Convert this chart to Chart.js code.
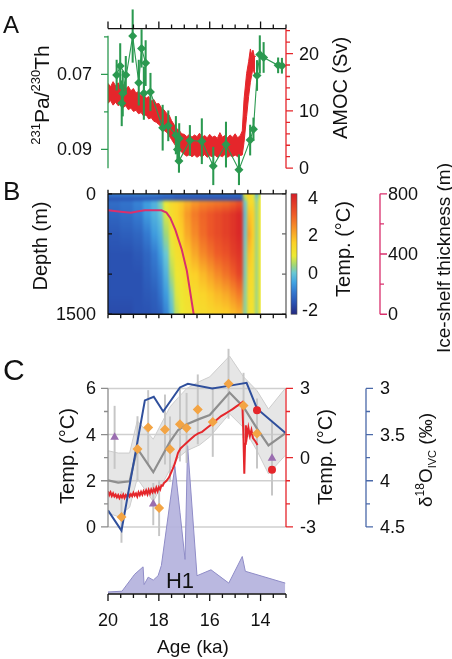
<!DOCTYPE html>
<html lang="en">
<head>
<meta charset="UTF-8">
<title>Deglacial AMOC, subsurface warming and ice-shelf collapse</title>
<script src="https://cdn.jsdelivr.net/npm/chart.js"></script>
<style>
  html, body { margin: 0; padding: 0; background: #fff; }
  #wrap { position: relative; width: 452px; height: 659px; }
</style>
</head>
<body>
<div id="wrap"><canvas id="fig" width="452" height="659"></canvas></div>
<script>
// ---------- Panel A: 231Pa/230Th record and simulated AMOC ----------
const paAges  = [19.66, 19.52, 19.30, 19.42, 19.46, 19.03, 18.79, 18.68, 18.52, 18.59, 18.33, 17.85, 17.63, 17.33, 17.20, 17.27, 17.21, 16.78, 16.31, 15.86, 15.36, 14.85, 14.41, 14.28, 14.14, 14.03, 13.88, 13.31, 13.16];
const paRatio = [0.0702, 0.0678, 0.0702, 0.0751, 0.0777, 0.0598, 0.0722, 0.0631, 0.0670, 0.0750, 0.0747, 0.0842, 0.0837, 0.0862, 0.0871, 0.0900, 0.0931, 0.0876, 0.0878, 0.0944, 0.0887, 0.0954, 0.0875, 0.0846, 0.0703, 0.0647, 0.0655, 0.0676, 0.0677];
const paErr   = [0.004, 0.006, 0.005, 0.006, 0.006, 0.007, 0.006, 0.005, 0.006, 0.007, 0.005, 0.006, 0.004, 0.005, 0.004, 0.003, 0.003, 0.004, 0.006, 0.005, 0.006, 0.004, 0.004, 0.003, 0.004, 0.005, 0.004, 0.002, 0.002];

const amocAges = [20.0, 19.9, 19.8, 19.7, 19.6, 19.5, 19.4, 19.3, 19.2, 19.1, 19.0, 18.9, 18.8, 18.7, 18.6, 18.5, 18.4, 18.3, 18.2, 18.1, 18.0, 17.9, 17.8, 17.7, 17.6, 17.5, 17.4, 17.3, 17.2, 17.1, 17.0, 16.9, 16.8, 16.7, 16.6, 16.5, 16.4, 16.3, 16.2, 16.1, 16.0, 15.9, 15.8, 15.7, 15.6, 15.5, 15.4, 15.3, 15.2, 15.1, 15.0, 14.9, 14.8, 14.72, 14.65, 14.55, 14.47, 14.4, 14.35, 14.3, 14.25, 14.22];
const amocHi = [14.8, 14.2, 15.1, 14.4, 14.9, 14.0, 14.6, 13.8, 14.3, 13.5, 13.9, 13.1, 13.4, 12.6, 12.9, 12.2, 12.5, 11.7, 12.0, 11.2, 11.3, 10.5, 10.2, 9.6, 9.3, 8.3, 7.6, 6.9, 6.6, 6.0, 5.9, 5.5, 5.9, 5.4, 5.8, 5.5, 6.1, 5.4, 5.7, 5.3, 5.9, 5.4, 5.6, 5.2, 6.2, 5.4, 5.7, 5.3, 5.8, 5.4, 6.0, 5.3, 5.7, 6.5, 12.0, 16.5, 18.6, 20.8, 19.8, 20.6, 19.6, 19.4];
const amocLo = [11.3, 11.8, 11.0, 11.5, 10.9, 11.3, 10.6, 10.9, 10.2, 10.5, 9.9, 10.1, 9.5, 9.7, 9.1, 9.3, 8.6, 8.8, 8.2, 8.0, 7.6, 7.2, 6.6, 6.3, 5.7, 5.0, 4.3, 3.7, 3.2, 2.8, 2.4, 2.1, 2.4, 2.0, 2.3, 1.9, 2.2, 2.0, 2.4, 1.9, 2.2, 2.0, 2.3, 1.9, 2.2, 2.0, 2.4, 1.9, 2.2, 2.0, 2.3, 2.0, 2.2, 2.3, 4.5, 9.0, 12.5, 15.0, 16.2, 17.4, 16.6, 16.4];

// ---------- Panel B: simulated subsurface temperature and ice shelf ----------
const heatEdges  = [20.0, 19.5, 19.0, 18.6, 18.3, 18.0, 17.8, 17.6, 17.4, 17.2, 17.0, 16.7, 16.4, 16.1, 15.8, 15.5, 15.2, 14.95, 14.67, 14.51, 14.35, 14.21, 14.07, 14.0];
const heatDepths = [0, 70, 100, 250, 500, 750, 1000, 1250, 1500];
const heatTemps = [
  [-0.9, -1.6, -1.2, -1.3, -1.5, -1.6, -1.6, -1.6, -1.7],
  [-0.9, -1.6, -1.1, -1.2, -1.4, -1.6, -1.6, -1.6, -1.7],
  [-0.8, -1.6, -0.9, -1.0, -1.3, -1.5, -1.6, -1.6, -1.6],
  [-0.8, -1.6, -0.6, -0.6, -1.0, -1.3, -1.4, -1.5, -1.6],
  [-0.8, -1.6, -0.3, -0.3, -0.6, -1.0, -1.2, -1.4, -1.5],
  [-0.9, -1.6,  0.2,  0.0, -0.3, -0.6, -0.9, -1.1, -1.4],
  [-1.0, -1.6,  0.9,  0.8,  0.4,  0.0, -0.3, -0.6, -0.9],
  [-1.0, -1.6,  1.3,  1.3,  1.1,  0.8,  0.5,  0.1, -0.2],
  [-1.1, -1.7,  1.5,  1.5,  1.4,  1.2,  1.0,  0.8,  0.6],
  [-1.1, -1.7,  1.7,  1.8,  1.6,  1.3,  1.1,  1.0,  0.9],
  [-1.1, -1.7,  2.0,  2.3,  2.1,  1.7,  1.4,  1.2,  1.1],
  [-1.1, -1.7,  2.3,  2.7,  2.5,  2.1,  1.6,  1.3,  1.2],
  [-1.1, -1.7,  2.5,  3.0,  2.9,  2.5,  1.9,  1.5,  1.3],
  [-1.1, -1.7,  2.6,  3.2,  3.2,  2.8,  2.2,  1.7,  1.4],
  [-1.1, -1.7,  2.7,  3.4,  3.4,  3.1,  2.5,  1.9,  1.5],
  [-1.1, -1.7,  2.8,  3.6,  3.6,  3.3,  2.8,  2.1,  1.6],
  [-1.1, -1.7,  3.0,  3.8,  3.8,  3.6,  3.1,  2.4,  1.8],
  [-1.1, -1.7,  3.3,  4.0,  4.0,  3.8,  3.5,  2.7,  2.0],
  [ 1.0,  0.4,  0.0, -0.1,  0.0,  0.1,  0.1,  0.2,  0.2],
  [ 1.6,  1.5,  1.3,  1.8,  2.2,  1.8,  1.5,  1.3,  1.2],
  [ 0.8,  1.2,  1.3,  1.6,  1.6,  1.4,  1.3,  1.2,  1.1],
  [-0.3,  0.0,  0.2,  0.3,  0.3,  0.3,  0.3,  0.3,  0.3],
  [ 0.6,  0.9,  1.0,  1.0,  1.0,  1.0,  1.0,  1.0,  1.0]
];
const iceAges  = [20.0, 19.5, 19.1, 18.8, 18.55, 17.9, 17.7, 17.55, 17.35, 17.1, 16.9, 16.63];
const iceThick = [690, 681, 674, 684, 690, 690, 675, 640, 560, 430, 290, 0];

// ---------- Panel C: proxy stack, simulated temperature, d18O, IRD ----------
const stackAges = [20.0, 19.6, 19.15, 18.85, 18.22, 17.56, 17.24, 16.9, 16.4, 16.0, 15.22, 14.67, 14.14, 13.69, 13.03];
const stackMean = [2.02, 1.92, 1.98, 3.4, 2.37, 3.7, 4.2, 4.45, 4.68, 4.85, 5.82, 5.2, 4.26, 3.53, 4.05];
const stackHi   = [3.3, 3.2, 3.2, 4.6, 3.8, 5.2, 5.6, 6.0, 6.3, 6.5, 7.4, 6.5, 5.9, 5.1, 6.0];
const stackLo   = [0.6, 0.45, 0.85, 2.1, 1.1, 2.5, 3.0, 3.3, 3.55, 3.9, 4.9, 4.3, 3.3, 2.3, 3.1];

const orangeAges  = [19.47, 18.84, 18.42, 17.99, 17.76, 17.56, 17.17, 16.91, 16.47, 15.88, 15.26, 14.67, 14.14];
const orangeTemps = [0.43, 3.38, 4.31, 0.82, 4.22, 3.37, 4.45, 4.29, 5.09, 4.55, 6.2, 5.26, 4.05];
const orangeErr   = [1.1, 1.4, 1.6, 1.2, 1.5, 1.4, 1.6, 1.5, 1.5, 1.5, 1.5, 1.4, 1.5];
const triAges  = [19.74, 18.22, 13.55];
const triTemps = [3.88, 0.99, 2.98];
const triErr   = [1.35, 0.9, 1.6];
const circleAges  = [14.14, 13.55];
const circleTemps = [5.05, 2.48];

const simAges = [20.0, 19.95, 19.9, 19.85, 19.8, 19.75, 19.7, 19.65, 19.6, 19.55, 19.5, 19.45, 19.4, 19.35, 19.3, 19.25, 19.2, 19.15, 19.1, 19.05, 19.0, 18.95, 18.9, 18.85, 18.8, 18.75, 18.7, 18.65, 18.6, 18.55, 18.5, 18.45, 18.4, 18.35, 18.3, 18.25, 18.2, 18.15, 18.1, 18.05, 18.0, 17.95, 17.9, 17.85, 17.8, 17.7, 17.6, 17.5, 17.4, 17.3, 17.25, 17.15, 17.05, 16.95, 16.8, 16.6, 16.45, 16.3, 16.15, 16.0, 15.85, 15.7, 15.55, 15.4, 15.25, 15.1, 14.95, 14.8, 14.72, 14.68, 14.64, 14.61, 14.58, 14.53, 14.48, 14.42, 14.36, 14.3, 14.2, 14.12];
const simTemps = [-1.45, -1.62, -1.5, -1.66, -1.55, -1.68, -1.6, -1.72, -1.62, -1.75, -1.64, -1.72, -1.6, -1.74, -1.62, -1.7, -1.55, -1.68, -1.58, -1.66, -1.52, -1.64, -1.55, -1.68, -1.5, -1.62, -1.48, -1.6, -1.45, -1.57, -1.42, -1.58, -1.4, -1.55, -1.38, -1.5, -1.36, -1.48, -1.3, -1.45, -1.28, -1.38, -1.2, -1.22, -1.1, -1.0, -0.85, -0.6, -0.35, 0.0, 0.2, 0.4, 0.5, 0.6, 0.75, 0.95, 1.05, 1.12, 1.25, 1.38, 1.52, 1.66, 1.8, 1.9, 2.0, 2.1, 2.22, 2.33, 2.4, 1.2, -0.7, 0.6, 1.4, 0.95, 1.3, 0.95, 1.2, 0.85, 0.7, 0.55];

const d18Ages = [20.0, 19.47, 18.55, 18.2, 17.83, 17.17, 16.86, 15.9, 15.2, 14.55, 14.14, 13.03];
const d18Vals = [4.32, 4.54, 3.13, 3.09, 3.25, 2.99, 2.95, 3.0, 2.97, 2.94, 3.22, 3.48];

const irdAges   = [20.0, 19.45, 18.95, 18.62, 18.58, 18.42, 18.22, 18.03, 17.9, 17.37, 17.17, 16.97, 16.87, 16.5, 15.95, 15.25, 14.72, 14.6, 13.03];
const irdCounts = [1, 1.5, 13, 18, 6, 11, 9, 12, 19, 86, 55, 23, 100, 12, 16, 7, 25, 15, 7];

// ---------- ticks ----------
const ageTicks  = [20, 19.5, 19, 18.5, 18, 17.5, 17, 16.5, 16, 15.5, 15, 14.5, 14, 13.5, 13];
const ageLabels = [20, 18, 16, 14];
const paTicks = [0.06, 0.07, 0.08, 0.09];
const paLabels = [0.07, 0.09];
const amocTicks = [0, 2, 4, 6, 8, 10, 12, 14, 16, 18, 20, 22, 24];
const amocLabels = [0, 10, 20];
const depthTicks = [0, 500, 1000, 1500];
const depthLabels = [0, 1500];
const cbarLabels = [-2, 0, 2, 4];
const cbarRange = [-2.2, 4.2];
const iceTicks = [0, 200, 400, 600, 800];
const iceLabels = [0, 400, 800];
const tempTicks = [0, 1, 2, 3, 4, 5, 6];
const tempLabels = [0, 2, 4, 6];
const simTicks = [-3, -2, -1, 0, 1, 2, 3];
const simLabels = [-3, 0, 3];
const d18Ticks = [3, 3.25, 3.5, 3.75, 4, 4.25, 4.5];
const d18Labels = [3, 3.5, 4, 4.5];

// ---------- styling ----------
const FONT = '"Liberation Sans", Arial, Helvetica, sans-serif';
const GREEN = '#2b9950', RED = '#e5262b', PINK = '#d9306d', BLUE = '#2f4f9c', BLUE_AX = '#4a69a9';
const GREY_AX = '#8c8c8c', INK = '#111';
const H = 659;

// jet-like colour scale of the temperature section
const cmap = [
  [-2.2, [36, 42, 128]],
  [-1.6, [42, 82, 178]],
  [-1.0, [52, 122, 208]],
  [-0.5, [66, 164, 226]],
  [0.0, [105, 200, 212]],
  [0.4, [160, 215, 120]],
  [0.9, [236, 234, 52]],
  [1.6, [252, 208, 40]],
  [2.4, [246, 145, 40]],
  [3.1, [238, 92, 40]],
  [4.2, [214, 30, 40]]
];
function tempColor(t) {
  if (t <= cmap[0][0]) return 'rgb(' + cmap[0][1].join(',') + ')';
  for (let i = 1; i < cmap.length; i++) {
    if (t <= cmap[i][0]) {
      const [t0, c0] = cmap[i - 1], [t1, c1] = cmap[i];
      const f = (t - t0) / (t1 - t0);
      return 'rgb(' + c0.map((c, k) => Math.round(c + (c1[k] - c) * f)).join(',') + ')';
    }
  }
  return 'rgb(' + cmap[cmap.length - 1][1].join(',') + ')';
}

// axis range so that value v1 sits at pixel row y1 and v2 at y2
function span(v1, y1, v2, y2) {
  const k = (v2 - v1) / (y2 - y1);
  const top = v1 - y1 * k, bottom = v1 + (H - y1) * k;
  return { type: 'linear', display: false, reverse: top < bottom, min: Math.min(top, bottom), max: Math.max(top, bottom) };
}

const xy = (xs, ys) => xs.map((x, i) => ({ x, y: ys[i] }));
const bars = (xs, ys, es) => xs.map((x, i) => ({ x, y: [ys[i] - es[i], ys[i] + es[i]] }));

// axes drawn by hand (partial spines, minor ticks, inward/outward ticks)
const vAxes = [
  { scale: 'yPa', x: ca => ca.left, from: 0.0597, to: 0.0950, ticks: paTicks, labels: paLabels, dir: -1, color: GREEN, labelX: ca => ca.left - 16, align: 'right', fmt: v => v.toFixed(2) },
  { scale: 'yAmoc', x: ca => ca.right, from: 0, to: 24.35, ticks: amocTicks, labels: amocLabels, dir: 1, color: RED, labelX: ca => ca.right + 13, align: 'left' },
  { scale: 'yDepth', x: ca => ca.left, from: 0, to: 1500, ticks: depthTicks, labels: depthLabels, dir: 1, len: [4, 4], color: INK, labelX: ca => ca.left - 12, align: 'right' },
  { scale: 'yDepth', x: ca => ca.right, from: 0, to: 1500, ticks: depthTicks, labels: [], dir: -1, len: [4, 4], color: '#666' },
  { scale: 'yCbar', ticks: [], labels: cbarLabels, labelX: ca => ca.right + 32, align: 'right' },
  { scale: 'yIce', x: ca => ca.right + 94, from: 0, to: 800, ticks: iceTicks, labels: iceLabels, dir: 1, color: PINK, labelX: ca => ca.right + 102, align: 'left' },
  { scale: 'yT', x: ca => ca.left, from: 0, to: 6, ticks: tempTicks, labels: tempLabels, dir: -1, color: GREY_AX, labelX: ca => ca.left - 12, align: 'right' },
  { scale: 'yR', x: ca => ca.right, from: -3, to: 3, ticks: simTicks, labels: simLabels, dir: 1, color: RED, labelX: ca => ca.right + 14, align: 'left' },
  { scale: 'yD', x: ca => ca.right + 80, from: 3, to: 4.5, ticks: d18Ticks, labels: d18Labels, dir: 1, color: BLUE_AX, labelX: ca => ca.right + 94, align: 'left' }
];
const hAxes = [
  { scale: 'yAmoc', value: 24.35, dir: -1, color: INK },
  { scale: 'yDepth', value: 0, dir: -1, color: INK, len: [4, 4] },
  { scale: 'yDepth', value: 1500, dir: 1, color: INK, len: [4, 4] },
  { scale: 'yIrd', value: -0.4, dir: 1, color: INK, labels: ageLabels, labelDy: 27 }
];

const titles = [
  { parts: [['231', 13, -9], ['Pa/', 21, 0], ['230', 13, -9], ['Th', 21, 0]], x: 41, y: 95, rot: true },
  { parts: [['AMOC (Sv)', 20, 0]], x: 340, y: 88, rot: true },
  { parts: [['Depth (m)', 20, 0]], x: 40, y: 246, rot: true },
  { parts: [['Temp. (°C)', 20, 0]], x: 343, y: 249, rot: true },
  { parts: [['Ice-shelf thickness (m)', 19, 0]], x: 443, y: 258, rot: true },
  { parts: [['Temp. (°C)', 20, 0]], x: 67, y: 456, rot: true },
  { parts: [['Temp. (°C)', 20, 0]], x: 325, y: 457, rot: true },
  { parts: [['δ', 19, 0], ['18', 12, -8], ['O', 19, 0], ['IVC', 11, 4], [' (‰)', 19, 0]], x: 425, y: 460, rot: true },
  { parts: [['Age (ka)', 19, 0]], x: 193, y: 646 },
  { parts: [['H1', 22, 0]], x: 180, y: 580 }
];
const panelLetters = [['A', 24, 3, 33], ['B', 26, 3, 200], ['C', 30, 3, 380]];

function drawHeat(chart, ctx) {
  const xs = chart.scales.x, ys = chart.scales.yDepth;
  const top = ys.getPixelForValue(heatDepths[0]);
  const bot = ys.getPixelForValue(heatDepths[heatDepths.length - 1]);
  const left = xs.getPixelForValue(heatEdges[0]);
  const right = xs.getPixelForValue(heatEdges[heatEdges.length - 1]);
  const off = document.createElement('canvas');
  off.width = chart.width; off.height = chart.height;
  const o = off.getContext('2d');
  heatTemps.forEach((col, i) => {
    const xa = xs.getPixelForValue(heatEdges[i]);
    const xb = xs.getPixelForValue(heatEdges[i + 1]);
    const g = o.createLinearGradient(0, top, 0, bot);
    col.forEach((t, j) => g.addColorStop((ys.getPixelForValue(heatDepths[j]) - top) / (bot - top), tempColor(t)));
    o.fillStyle = g;
    o.fillRect(Math.floor(Math.min(xa, xb)), top, Math.ceil(Math.abs(xb - xa)) + 1, bot - top);
  });
  ctx.save();
  ctx.beginPath();
  ctx.rect(left, top, right - left, bot - top);
  ctx.clip();
  ctx.drawImage(off, 0, 0);
  ctx.filter = 'blur(1.6px)';
  ctx.drawImage(off, 0, 0);
  ctx.restore();
}

function drawColorbar(chart, ctx) {
  const s = chart.scales.yCbar, ca = chart.chartArea;
  const top = s.getPixelForValue(cbarRange[1]), bot = s.getPixelForValue(cbarRange[0]);
  const g = ctx.createLinearGradient(0, bot, 0, top);
  cmap.forEach(([t]) => g.addColorStop((t - cbarRange[0]) / (cbarRange[1] - cbarRange[0]), tempColor(t)));
  ctx.save();
  ctx.fillStyle = g;
  ctx.fillRect(ca.right + 5, top, 6, bot - top);
  ctx.strokeStyle = '#555'; ctx.lineWidth = 0.6;
  ctx.strokeRect(ca.right + 5, top, 6, bot - top);
  ctx.restore();
}

function drawTempGrid(chart, ctx) {
  const s = chart.scales.yT, ca = chart.chartArea;
  ctx.save();
  ctx.strokeStyle = '#cfcfcf'; ctx.lineWidth = 1.5;
  ctx.beginPath();
  tempLabels.forEach(v => {
    const y = s.getPixelForValue(v);
    ctx.moveTo(ca.left, y); ctx.lineTo(ca.right, y);
  });
  ctx.stroke();
  ctx.restore();
}

function drawVAxis(chart, ctx, a) {
  const s = chart.scales[a.scale], ca = chart.chartArea;
  const len = a.len || [7, 4];
  ctx.save();
  if (a.ticks.length) {
    const x = a.x(ca);
    ctx.strokeStyle = a.color; ctx.lineWidth = 1.3;
    ctx.beginPath();
    ctx.moveTo(x, s.getPixelForValue(a.from));
    ctx.lineTo(x, s.getPixelForValue(a.to));
    a.ticks.forEach(v => {
      const y = s.getPixelForValue(v);
      ctx.moveTo(x, y);
      ctx.lineTo(x + a.dir * (a.labels.includes(v) ? len[0] : len[1]), y);
    });
    ctx.stroke();
  }
  ctx.fillStyle = INK; ctx.font = '18px ' + FONT;
  ctx.textBaseline = 'middle'; ctx.textAlign = a.align;
  a.labels.forEach(v => ctx.fillText(a.fmt ? a.fmt(v) : String(v), a.labelX(ca), s.getPixelForValue(v) + 1));
  ctx.restore();
}

function drawHAxis(chart, ctx, a) {
  const xs = chart.scales.x, s = chart.scales[a.scale];
  const y = s.getPixelForValue(a.value);
  const len = a.len || [7, 4];
  const majors = a.labels || ageLabels;
  ctx.save();
  ctx.strokeStyle = a.color; ctx.lineWidth = 1.3;
  ctx.beginPath();
  ctx.moveTo(xs.getPixelForValue(ageTicks[0]), y);
  ctx.lineTo(xs.getPixelForValue(ageTicks[ageTicks.length - 1]), y);
  ageTicks.forEach(v => {
    const x = xs.getPixelForValue(v);
    ctx.moveTo(x, y);
    ctx.lineTo(x, y + a.dir * (majors.includes(v) ? len[0] : len[1]));
  });
  ctx.stroke();
  if (a.labels) {
    ctx.fillStyle = INK; ctx.font = '18px ' + FONT;
    ctx.textAlign = 'center'; ctx.textBaseline = 'middle';
    a.labels.forEach(v => ctx.fillText(String(v), xs.getPixelForValue(v), y + a.labelDy));
  }
  ctx.restore();
}

function drawRich(ctx, t) {
  ctx.save();
  ctx.translate(t.x, t.y);
  if (t.rot) ctx.rotate(-Math.PI / 2);
  let total = 0, big = 0;
  t.parts.forEach(p => { ctx.font = p[1] + 'px ' + FONT; total += ctx.measureText(p[0]).width; big = Math.max(big, p[1]); });
  let cx = -total / 2;
  const base = big * 0.36;
  ctx.fillStyle = INK; ctx.textAlign = 'left'; ctx.textBaseline = 'alphabetic';
  t.parts.forEach(p => {
    ctx.font = p[1] + 'px ' + FONT;
    ctx.fillText(p[0], cx, base + p[2]);
    cx += ctx.measureText(p[0]).width;
  });
  ctx.restore();
}

const figurePlugin = {
  id: 'figure',
  beforeDatasetsDraw(chart) {
    const ctx = chart.ctx;
    drawHeat(chart, ctx);
    drawColorbar(chart, ctx);
    drawTempGrid(chart, ctx);
  },
  afterDraw(chart) {
    const ctx = chart.ctx;
    vAxes.forEach(a => drawVAxis(chart, ctx, a));
    hAxes.forEach(a => drawHAxis(chart, ctx, a));
    titles.forEach(t => drawRich(ctx, t));
    ctx.save();
    ctx.fillStyle = INK; ctx.textAlign = 'left'; ctx.textBaseline = 'alphabetic';
    panelLetters.forEach(([txt, size, x, y]) => { ctx.font = size + 'px ' + FONT; ctx.fillText(txt, x, y); });
    ctx.restore();
  }
};

new Chart(document.getElementById('fig'), {
  type: 'line',
  data: {
    datasets: [
      // panel A
      { label: 'Pa/Th', yAxisID: 'yPa', data: xy(paAges, paRatio), borderColor: GREEN, backgroundColor: GREEN, borderWidth: 1.1, pointStyle: 'rectRot', pointRadius: 4.5, pointBorderWidth: 0, order: 2 },
      { type: 'bar', label: 'Pa/Th error', yAxisID: 'yPa', data: bars(paAges, paRatio, paErr), backgroundColor: GREEN, barThickness: 1.4, grouped: false, order: 3 },
      { label: 'AMOC upper', yAxisID: 'yAmoc', data: xy(amocAges, amocHi), borderColor: RED, borderWidth: 1, pointRadius: 0, order: 8 },
      { label: 'AMOC lower', yAxisID: 'yAmoc', data: xy(amocAges, amocLo), borderColor: RED, borderWidth: 1, pointRadius: 0, fill: '-1', backgroundColor: RED, order: 8 },
      // panel B
      { label: 'Ice shelf', yAxisID: 'yIce', data: xy(iceAges, iceThick), borderColor: PINK, borderWidth: 2, pointRadius: 0, order: 5 },
      // panel C
      { label: 'IRD', yAxisID: 'yIrd', data: xy(irdAges, irdCounts), borderColor: '#8f8cc7', borderWidth: 1, backgroundColor: 'rgba(180,178,221,0.92)', fill: 'origin', pointRadius: 0, order: 20 },
      { label: 'stack upper', yAxisID: 'yT', data: xy(stackAges, stackHi), borderColor: '#cdcdcd', borderWidth: 1, pointRadius: 0, order: 22 },
      { label: 'stack lower', yAxisID: 'yT', data: xy(stackAges, stackLo), borderColor: '#cdcdcd', borderWidth: 1, pointRadius: 0, fill: '-1', backgroundColor: 'rgba(200,200,200,0.45)', order: 22 },
      { type: 'bar', label: 'proxy error', yAxisID: 'yT', data: [...bars(orangeAges, orangeTemps, orangeErr), ...bars(triAges, triTemps, triErr)], backgroundColor: '#c6c6c6', barThickness: 1.3, grouped: false, order: 12 },
      { label: 'stack mean', yAxisID: 'yT', data: xy(stackAges, stackMean), borderColor: '#8e8e8e', borderWidth: 2.2, pointRadius: 0, order: 10 },
      { label: 'simulated temp', yAxisID: 'yR', data: xy(simAges, simTemps), borderColor: RED, borderWidth: 2, pointRadius: 0, order: 7 },
      { label: 'd18O', yAxisID: 'yD', data: xy(d18Ages, d18Vals), borderColor: BLUE, borderWidth: 2, pointRadius: 0, order: 6 },
      { label: 'orange proxy', yAxisID: 'yT', data: xy(orangeAges, orangeTemps), showLine: false, pointStyle: 'rectRot', pointRadius: 5, pointBackgroundColor: '#f3a444', pointBorderWidth: 0, order: 4 },
      { label: 'triangle proxy', yAxisID: 'yT', data: xy(triAges, triTemps), showLine: false, pointStyle: 'triangle', pointRadius: 5, pointBackgroundColor: '#9a6db0', pointBorderWidth: 0, order: 4 },
      { label: 'circle proxy', yAxisID: 'yT', data: xy(circleAges, circleTemps), showLine: false, pointStyle: 'circle', pointRadius: 4, pointBackgroundColor: RED, pointBorderWidth: 0, order: 4 }
    ]
  },
  options: {
    responsive: false,
    animation: false,
    devicePixelRatio: 1,
    events: [],
    layout: { padding: { left: 108, right: 166, top: 0, bottom: 0 } },
    plugins: { legend: { display: false }, tooltip: { enabled: false } },
    scales: {
      x: { type: 'linear', display: false, reverse: true, min: 13, max: 20, offset: false },
      yPa: span(0.06, 32.3, 0.09, 146.7),
      yAmoc: span(0, 165.7, 20, 49.3),
      yDepth: span(0, 191.7, 1500, 314),
      yIce: span(0, 314, 800, 191.7),
      yCbar: span(-2.2, 314, 4.2, 191.7),
      yT: span(0, 530, 6, 389.3),
      yR: span(-3, 530, 3, 389.3),
      yD: span(3, 389.3, 4.5, 530),
      yIrd: span(0, 597.5, 100, 447.5)
    }
  },
  plugins: [figurePlugin]
});
</script>
</body>
</html>
